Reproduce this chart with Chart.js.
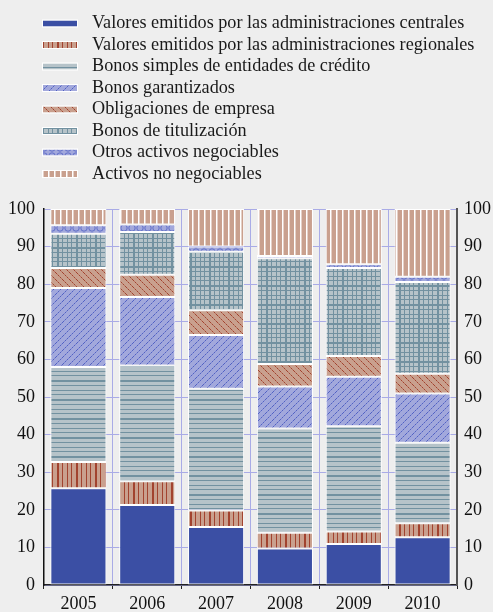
<!DOCTYPE html>
<html>
<head>
<meta charset="utf-8">
<script src="https://cdn.jsdelivr.net/npm/chart.js@4/dist/chart.umd.min.js"></script>
<style>
  html, body { margin: 0; padding: 0; background: #eeeeee; }
  canvas { display: block; }
</style>
</head>
<body>
<canvas id="c" width="493" height="612"></canvas>
<script>
// Composición de los activos de garantía por año (%)
const years = ['2005', '2006', '2007', '2008', '2009', '2010'];

const seriesNames = [
  'Valores emitidos por las administraciones centrales',
  'Valores emitidos por las administraciones regionales',
  'Bonos simples de entidades de crédito',
  'Bonos garantizados',
  'Obligaciones de empresa',
  'Bonos de titulización',
  'Otros activos negociables',
  'Activos no negociables'
];

const centrales     = [25.7, 21.3, 15.4,  9.7, 10.9, 12.7];
const regionales    = [ 7.0,  6.3,  4.4,  4.2,  3.3,  3.7];
const bonosSimples  = [25.3, 30.8, 32.4, 27.7, 28.0, 21.4];
const garantizados  = [21.0, 18.2, 14.3, 11.2, 13.2, 13.1];
const obligaciones  = [ 5.3,  5.9,  6.6,  6.0,  5.5,  5.3];
const titulizacion  = [ 9.1, 11.4, 15.5, 28.1, 23.4, 24.4];
const otrosNegoc    = [ 2.3,  2.0,  1.4,  0.6,  1.0,  1.4];
const noNegociables = [ 4.3,  4.1, 10.0, 12.5, 14.7, 18.0];

const yTicks = [0, 10, 20, 30, 40, 50, 60, 70, 80, 90, 100];

const canvas = document.getElementById('c');
const ctx = canvas.getContext('2d');

// Small repeating tiles used as bar fills
function tile(w, h, paint) {
  const t = document.createElement('canvas');
  t.width = w; t.height = h;
  const g = t.getContext('2d');
  paint(g, w, h);
  return ctx.createPattern(t, 'repeat');
}

const TAN = '#c9a08e', RED = '#a2432f';
const GREY = '#b6c3c9', STEEL = '#7291a0';
const LAV = '#a2a8dc', INK = '#5262c4';

const fills = [
  '#3b4fa4',
  tile(19, 4, (g, w, h) => {
    g.fillStyle = TAN; g.fillRect(0, 0, w, h);
    g.fillStyle = RED;
    g.fillRect(0, 0, 2, h);
    [5, 10, 14].forEach(x => g.fillRect(x, 0, 1, h));
  }),
  tile(4, 19, (g, w, h) => {
    g.fillStyle = GREY; g.fillRect(0, 0, w, h);
    g.fillStyle = STEEL;
    g.fillRect(0, 0, w, 2);
    [5, 10, 14].forEach(y => g.fillRect(0, y, w, 1));
  }),
  tile(7, 7, (g, w, h) => {
    g.fillStyle = LAV; g.fillRect(0, 0, w, h);
    g.fillStyle = INK;
    for (let i = 0; i < 7; i++) if (i % 2 === 0) g.fillRect(i, 6 - i, 1, 1);
    g.globalAlpha = 0.5;
    for (let i = 0; i < 7; i++) if (i % 2 === 1) g.fillRect(i, 6 - i, 1, 1);
  }),
  tile(7, 7, (g, w, h) => {
    g.fillStyle = TAN; g.fillRect(0, 0, w, h);
    g.fillStyle = RED;
    for (let i = 0; i < 7; i++) if (i % 2 === 0) g.fillRect(i, i, 1, 1);
    g.globalAlpha = 0.5;
    for (let i = 0; i < 7; i++) if (i % 2 === 1) g.fillRect(i, i, 1, 1);
  }),
  tile(19, 19, (g, w, h) => {
    g.fillStyle = GREY; g.fillRect(0, 0, w, h);
    g.fillStyle = STEEL;
    g.fillRect(0, 0, 2, h); g.fillRect(0, 0, w, 2);
    [5, 10, 14].forEach(p => { g.fillRect(p, 0, 1, h); g.fillRect(0, p, w, 1); });
  }),
  tile(8, 8, (g, w, h) => {
    g.fillStyle = LAV; g.fillRect(0, 0, w, h);
    g.strokeStyle = INK; g.lineWidth = 0.8;
    g.beginPath(); g.arc(4, 4, 3.2, 0, Math.PI * 2); g.stroke();
  }),
  tile(6, 4, (g, w, h) => {
    g.fillStyle = TAN; g.fillRect(0, 0, w, h);
    g.fillStyle = '#ffffff'; g.fillRect(0, 0, 1.5, h);
  })
];

const values = [centrales, regionales, bonosSimples, garantizados,
                obligaciones, titulizacion, otrosNegoc, noNegociables];

const datasets = seriesNames.map((name, i) => ({
  label: name,
  data: values[i],
  backgroundColor: fills[i],
  borderColor: '#ffffff',
  borderWidth: 1,
  borderSkipped: false,
  stack: 'total'
}));

const FONT = "'Liberation Serif', 'Times New Roman', serif";
const GRID = '#a9abe6';

// Legend drawn as a single left-aligned column above the plot
const columnLegend = {
  id: 'columnLegend',
  afterDraw(chart) {
    const c = chart.ctx;
    const x0 = 43, y0 = 23.5, step = 21.5;
    c.save();
    c.font = '18.2px ' + FONT;
    c.textBaseline = 'middle';
    chart.data.datasets.forEach((ds, i) => {
      const y = y0 + i * step;
      c.fillStyle = ds.backgroundColor;
      c.fillRect(x0, y - 3, 34, 6);
      c.strokeStyle = '#ffffff';
      c.lineWidth = 1;
      c.strokeRect(x0 - 0.5, y - 3.5, 35, 7);
      c.fillStyle = '#1a1a1a';
      c.fillText(ds.label, 92, y);
    });
    c.restore();
  }
};

const tickFont = { family: FONT, size: 18 };

new Chart(ctx, {
  type: 'bar',
  data: { labels: years, datasets },
  plugins: [columnLegend],
  options: {
    responsive: false,
    animation: false,
    layout: { padding: { top: 209, left: 8, right: 2, bottom: 0 } },
    datasets: { bar: { categoryPercentage: 1, barPercentage: 0.815 } },
    plugins: { legend: { display: false }, tooltip: { enabled: false } },
    scales: {
      x: {
        stacked: true,
        grid: { offset: true, color: GRID, lineWidth: 1, tickColor: '#222', tickLength: 4 },
        border: { color: '#222', width: 1.5 },
        ticks: { font: tickFont, color: '#111', padding: 4 },
        afterFit(s) { s.height = 27; }
      },
      y: {
        stacked: true,
        min: 0, max: 100,
        afterBuildTicks(s) { s.ticks = yTicks.map(v => ({ value: v })); },
        grid: { color: GRID, lineWidth: 1, drawTicks: false },
        border: { color: '#111', width: 1.5 },
        ticks: { font: tickFont, color: '#111', padding: 9 },
        afterFit(s) { s.width = 36; }
      },
      yRight: {
        position: 'right',
        min: 0, max: 100,
        afterBuildTicks(s) { s.ticks = yTicks.map(v => ({ value: v })); },
        grid: { drawOnChartArea: false, drawTicks: false },
        border: { color: '#555', width: 2 },
        ticks: { font: tickFont, color: '#111', padding: 7 },
        afterFit(s) { s.width = 34; }
      }
    }
  }
});
</script>
</body>
</html>
